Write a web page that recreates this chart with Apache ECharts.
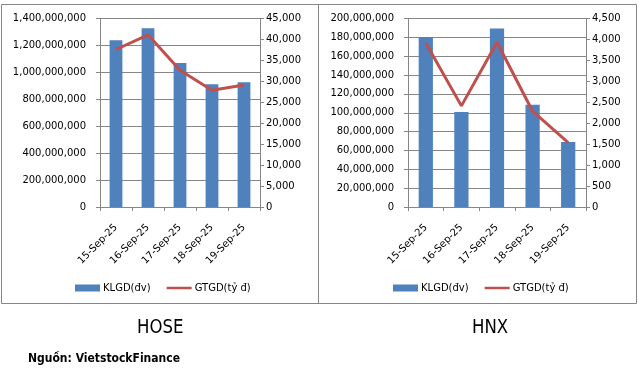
<!DOCTYPE html>
<html>
<head>
<meta charset="utf-8">
<script src="https://cdn.jsdelivr.net/npm/echarts@6/dist/echarts.min.js"></script>
<style>
html,body{margin:0;padding:0;background:#fff;}
#c{width:639px;height:373px;}
</style>
</head>
<body>
<div id="c"></div>
<script>
const categories = ['15-Sep-25', '16-Sep-25', '17-Sep-25', '18-Sep-25', '19-Sep-25'];
const hoseVolume = [1238000000, 1328000000, 1070000000, 912000000, 927000000];
const hoseValue = [37600, 41100, 32650, 27870, 29140];
const hnxVolume = [180500000, 100900000, 189300000, 108400000, 68900000];
const hnxValue = [3917, 2414, 3932, 2287, 1534];
const volName = 'KLGD(đv)';
const valName = 'GTGD(tỷ đ)';

const chart = echarts.init(document.getElementById('c'));
const FONT = 'DejaVu Sans';
const NARROW = '"DejaVu Sans Condensed", "Liberation Sans", sans-serif';
const AX = '#868686';
const fmt = v => v.toLocaleString('en-US');

function yAxis(gi, max, interval, pos) {
  return {
    type: 'value', gridIndex: gi, min: 0, max: max, interval: interval, position: pos,
    axisLine: {show: true, lineStyle: {color: AX}},
    axisTick: {show: true, length: 4, lineStyle: {color: AX}},
    splitLine: {show: pos === 'left', lineStyle: {color: AX, width: 1}},
    axisLabel: {color: '#000', fontFamily: FONT, fontSize: 10, margin: pos === 'left' ? 14 : 6, formatter: fmt}
  };
}
function xAxis(gi) {
  return {
    type: 'category', gridIndex: gi, data: categories, boundaryGap: true,
    axisLine: {show: true, lineStyle: {color: AX}},
    axisTick: {show: true, length: 4, alignWithLabel: false, lineStyle: {color: AX}},
    axisLabel: {color: '#000', fontFamily: FONT, fontSize: 10, rotate: 45, margin: 19, interval: 0}
  };
}
function legend(left) {
  return {
    left: left, top: 278, itemWidth: 25, itemHeight: 7, itemGap: 16,
    textStyle: {fontFamily: FONT, fontSize: 10, color: '#000', padding: [0, 0, 0, -2]},
    data: [
      {name: volName, icon: 'rect'},
      {name: valName, icon: 'path://M0,0H30V3H0Z', itemStyle: {color: '#c0504d'}}
    ]
  };
}

chart.setOption({
  animation: false,
  backgroundColor: '#fff',
  grid: [
    {left: 100, right: 379, top: 18.5, bottom: 166},
    {left: 408, right: 53, top: 18.5, bottom: 166}
  ],
  xAxis: [xAxis(0), xAxis(1)],
  yAxis: [
    yAxis(0, 1400000000, 200000000, 'left'),
    yAxis(0, 45000, 5000, 'right'),
    yAxis(1, 200000000, 20000000, 'left'),
    yAxis(1, 4500, 500, 'right')
  ],
  legend: [legend(70), legend(388)],
  series: [
    {name: volName, type: 'bar', xAxisIndex: 0, yAxisIndex: 0, data: hoseVolume, barWidth: '40%', itemStyle: {color: '#4f81bd'}},
    {name: valName, type: 'line', xAxisIndex: 0, yAxisIndex: 1, data: hoseValue, symbol: 'none', lineStyle: {color: '#c0504d', width: 3}, itemStyle: {color: '#c0504d'}},
    {name: volName, type: 'bar', xAxisIndex: 1, yAxisIndex: 2, data: hnxVolume, barWidth: '40%', itemStyle: {color: '#4f81bd'}},
    {name: valName, type: 'line', xAxisIndex: 1, yAxisIndex: 3, data: hnxValue, symbol: 'none', lineStyle: {color: '#c0504d', width: 3}, itemStyle: {color: '#c0504d'}}
  ],
  graphic: [
    {type: 'rect', shape: {x: 1.5, y: 4.5, width: 635, height: 299}, style: {fill: 'none', stroke: AX, lineWidth: 1}, silent: true},
    {type: 'line', shape: {x1: 318.5, y1: 4.5, x2: 318.5, y2: 303.5}, style: {stroke: AX, lineWidth: 1}, silent: true},
    {type: 'text', x: 137, y: 318, scaleX: 0.92, style: {text: 'HOSE', font: '20px ' + NARROW, fill: '#000'}},
    {type: 'text', x: 472, y: 318, scaleX: 0.92, style: {text: 'HNX', font: '20px ' + NARROW, fill: '#000'}},
    {type: 'text', left: 28, top: 353, style: {text: 'Nguồn: VietstockFinance', font: 'bold 12px ' + NARROW, fill: '#000'}}
  ]
});
</script>
</body>
</html>
